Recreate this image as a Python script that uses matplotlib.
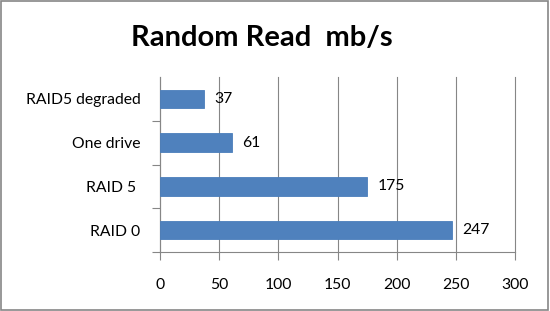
import matplotlib
matplotlib.use('Agg')
import matplotlib.pyplot as plt
from matplotlib.patches import Rectangle

categories = ['RAID 0', 'RAID 5 ', 'One drive', 'RAID5 degraded']
speeds = [247, 175, 61, 37]
xticks = [0, 50, 100, 150, 200, 250, 300]

plt.rcParams['font.family'] = ['Lato', 'DejaVu Sans']

fig = plt.figure(figsize=(5.5, 3.11), dpi=100)
W, H = 550, 311
ax = fig.add_axes([160 / W, 1 - 252 / H, 355 / W, 175 / H])

pos = list(range(len(categories)))
bars = ax.barh(pos, speeds, height=0.42, color='#4F81BD', edgecolor='#4A7EBB', linewidth=0.6, zorder=3)
for p, v in zip(pos, speeds):
    ax.annotate(str(v), (v, p), xytext=(7.5, 0), textcoords='offset points',
                va='center', ha='left', fontsize=11.3, color='black')

ax.set_xlim(0, 300)
ax.set_ylim(-0.5, len(categories) - 0.5)
ax.set_xticks(xticks)
ax.set_xticklabels([str(t) for t in xticks], fontsize=11.3)
ax.set_yticks(pos)
ax.set_yticklabels(categories, fontsize=11.3)
ax.set_yticks([p + 0.5 for p in pos[:-1]] + [-0.5], minor=True)
ax.tick_params(axis='y', which='major', length=0, pad=14)
ax.tick_params(axis='y', which='minor', length=6, color='#868686', width=0.8)
ax.tick_params(axis='x', length=6, color='#868686', width=0.8, pad=13)
ax.grid(axis='x', color='#868686', linewidth=0.8, zorder=0)
for gl in ax.get_xgridlines():
    gl.set_clip_on(False)
for s in ['top', 'right']:
    ax.spines[s].set_visible(False)
for s in ['left', 'bottom']:
    ax.spines[s].set_color('#868686')
    ax.spines[s].set_linewidth(0.8)

fig.text(262 / W, 1 - 46 / H, 'Random Read  mb/s', ha='center', va='baseline',
         fontsize=21, fontweight='bold')

fig.patches.append(Rectangle((0.002, 0.003), 0.995, 0.993, transform=fig.transFigure,
                             fill=False, edgecolor='#868686', linewidth=1.2))

fig.savefig('out.png', dpi=100)
